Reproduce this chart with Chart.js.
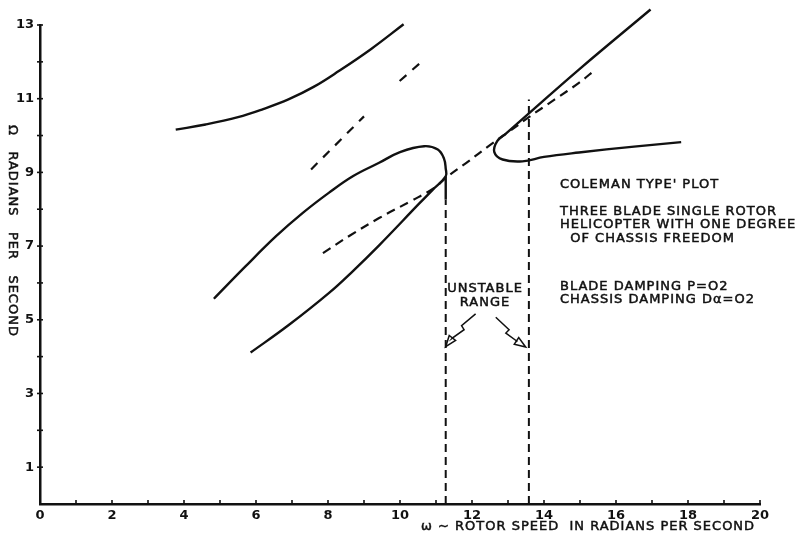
<!DOCTYPE html>
<html>
<head>
<meta charset="utf-8">
<script src="https://cdn.jsdelivr.net/npm/chart.js@4.4.0/dist/chart.umd.min.js"></script>
<style>
  html, body { margin: 0; padding: 0; background: #fff; }
  #wrap { width: 796px; height: 535px; }
</style>
</head>
<body>
<div id="wrap"><canvas id="chart"></canvas></div>
<script>
// upper left branch
const upperX = [3.77, 4.6, 5.5, 6.2, 6.9, 7.6, 8.3, 9.2, 10.1];
const upperY = [10.16, 10.3, 10.5, 10.72, 10.98, 11.32, 11.75, 12.35, 13.02];

// left hairpin (lobe + lower branch)
const lobeX = [4.83, 5.7, 6.55, 7.3, 8.03, 8.7, 9.42, 10.0, 10.67, 11.05, 11.22, 11.27, 11.27, 10.9, 10.53, 9.42, 8.7, 8.03, 6.9, 5.85];
const lobeY = [5.57, 6.44, 7.26, 7.9, 8.45, 8.9, 9.26, 9.55, 9.71, 9.62, 9.38, 9.1, 8.89, 8.52, 8.15, 7.02, 6.33, 5.73, 4.85, 4.11];

// right hairpin (nose loop)
const noseX = [17.81, 16.5, 14.97, 14.0, 13.4, 12.85, 12.62, 12.7, 12.95, 13.58, 14.97, 16.96];
const noseY = [9.82, 9.7, 9.54, 9.42, 9.3, 9.35, 9.55, 9.85, 10.06, 10.6, 11.79, 13.42];

// main dashed curve
const dashX = [7.86, 8.6, 9.42, 10.3, 10.94, 11.27, 11.9, 12.47, 12.98, 13.58, 14.3, 14.97, 15.43];
const dashY = [6.81, 7.28, 7.76, 8.22, 8.57, 8.85, 9.3, 9.72, 10.07, 10.5, 10.98, 11.43, 11.79];

// short dashed pieces above the lobe
const shortDashX = [7.53, 9.0, null, 9.99, 10.57];
const shortDashY = [9.08, 10.52, null, 11.48, 11.98];

// unstable range limits
const leftLimitX = [11.27, 11.27];
const leftLimitY = [0, 8.26];
const leftSolidY = [8.26, 8.89];
const rightLimitX = [13.58, 13.58];
const rightLimitY = [0, 10.98];

// zigzag arrows
const arrowLeftX = [12.1, 11.71, 11.78, 11.45, 11.27];
const arrowLeftY = [5.16, 4.84, 4.73, 4.5, 4.27];
const arrowRightX = [12.66, 13.03, 12.94, 13.26, 13.49];
const arrowRightY = [5.07, 4.73, 4.64, 4.41, 4.26];

const xTicks = [0, 2, 4, 6, 8, 10, 12, 14, 16, 18, 20];
const yTicks = [1, 3, 5, 7, 9, 11, 13];

const noteLines = [
  "COLEMAN TYPE' PLOT",
  'THREE BLADE SINGLE ROTOR',
  'HELICOPTER WITH ONE DEGREE',
  '  OF CHASSIS FREEDOM',
  'BLADE DAMPING P=O2',
  'CHASSIS DAMPING D\u03b1=O2'
];

const toPts = (xs, ys) => xs.map((x, i) => ({ x: x, y: ys[i] }));
const INK = '#111';
const FONT = '"DejaVu Sans", sans-serif';

function line(data, dash, width) {
  return {
    data: data,
    borderColor: INK,
    borderWidth: width || 2.4,
    borderDash: dash || [],
    pointRadius: 0,
    tension: 0.4,
    fill: false,
    clip: false,
    spanGaps: false
  };
}

function label(ctx, t, x, y) {
  ctx.fillText(t, x, y);
  ctx.strokeText(t, x, y);
}

const extras = {
  id: 'extras',
  afterDraw(chart) {
    const ctx = chart.ctx;
    const xs = chart.scales.x, ys = chart.scales.y;
    const X = v => xs.getPixelForValue(v);
    const Y = v => ys.getPixelForValue(v);
    ctx.save();
    ctx.strokeStyle = INK;
    ctx.fillStyle = INK;
    ctx.lineWidth = 1.6;
    // small ticks
    for (let i = 1; i <= 20; i++) {
      ctx.beginPath();
      ctx.moveTo(X(i), Y(0));
      ctx.lineTo(X(i), Y(0) - 4);
      ctx.stroke();
    }
    for (let i = 1; i <= 13; i++) {
      ctx.beginPath();
      ctx.moveTo(X(0) - 3, Y(i));
      ctx.lineTo(X(0) + 3, Y(i));
      ctx.stroke();
    }

    // zigzag arrows
    ctx.lineWidth = 1.5;
    [[arrowLeftX, arrowLeftY], [arrowRightX, arrowRightY]].forEach(([ax, ay]) => {
      ctx.beginPath();
      ctx.moveTo(X(ax[0]), Y(ay[0]));
      for (let i = 1; i < ax.length - 1; i++) ctx.lineTo(X(ax[i]), Y(ay[i]));
      const n = ax.length;
      const tx = X(ax[n - 1]), ty = Y(ay[n - 1]);
      const px = X(ax[n - 2]), py = Y(ay[n - 2]);
      const ang = Math.atan2(ty - py, tx - px);
      const bx = tx - 11 * Math.cos(ang), by = ty - 11 * Math.sin(ang);
      ctx.lineTo(bx, by);
      ctx.stroke();
      ctx.beginPath();
      ctx.moveTo(tx, ty);
      ctx.lineTo(bx + 4 * Math.sin(ang), by - 4 * Math.cos(ang));
      ctx.lineTo(bx - 4 * Math.sin(ang), by + 4 * Math.cos(ang));
      ctx.closePath();
      ctx.stroke();
    });

    // texts
    ctx.font = '13px ' + FONT;
    ctx.letterSpacing = '1px';
    ctx.lineWidth = 0.5;
    ctx.textBaseline = 'middle';
    ctx.textAlign = 'center';
    label(ctx, 'UNSTABLE', 485, 289);
    label(ctx, 'RANGE', 485, 303);

    ctx.textAlign = 'left';
    const noteY = [185, 211.7, 225, 238.3, 286.7, 299.3];
    noteLines.forEach((t, i) => label(ctx, t, 560, noteY[i]));

    label(ctx, '\u03c9 ~ ROTOR SPEED  IN RADIANS PER SECOND', 421, 527);

    ctx.translate(12, 231);
    ctx.rotate(Math.PI / 2);
    ctx.textAlign = 'center';
    label(ctx, '\u03a9   RADIANS   PER   SECOND', 0, 0);
    ctx.restore();
  }
};

new Chart(document.getElementById('chart'), {
  type: 'line',
  data: {
    datasets: [
      line(toPts(upperX, upperY)),
      line(toPts(lobeX, lobeY)),
      line(toPts(noseX, noseY)),
      line(toPts(dashX, dashY), [9, 6], 2.2),
      Object.assign(line(toPts(shortDashX, shortDashY), [9, 8], 2.2), { tension: 0 }),
      Object.assign(line(toPts(leftLimitX, leftLimitY), [8, 5], 2), { tension: 0 }),
      Object.assign(line(toPts(leftLimitX, leftSolidY)), { tension: 0 }),
      Object.assign(line(toPts(rightLimitX, rightLimitY), [8, 5], 2), { tension: 0 })
    ]
  },
  options: {
    responsive: true,
    maintainAspectRatio: false,
    animation: false,
    layout: { padding: { top: 25, right: 36, left: 0, bottom: 0 } },
    plugins: { legend: { display: false }, tooltip: { enabled: false } },
    scales: {
      x: {
        type: 'linear',
        min: 0, max: 20,
        afterFit: s => { s.height = 31; },
        afterBuildTicks: s => { s.ticks = xTicks.map(v => ({ value: v })); },
        grid: { display: false, drawTicks: false },
        border: { display: true, color: INK, width: 2.5 },
        ticks: { color: INK, font: { family: FONT, size: 13, weight: 'bold' }, padding: 4, maxRotation: 0 }
      },
      y: {
        type: 'linear',
        min: 0, max: 13,
        afterFit: s => { s.width = 40; },
        afterBuildTicks: s => { s.ticks = yTicks.map(v => ({ value: v })); },
        grid: { display: false, drawTicks: false },
        border: { display: true, color: INK, width: 2.5 },
        ticks: { color: INK, font: { family: FONT, size: 13, weight: 'bold' }, padding: 6 }
      }
    }
  },
  plugins: [extras]
});
</script>
</body>
</html>
